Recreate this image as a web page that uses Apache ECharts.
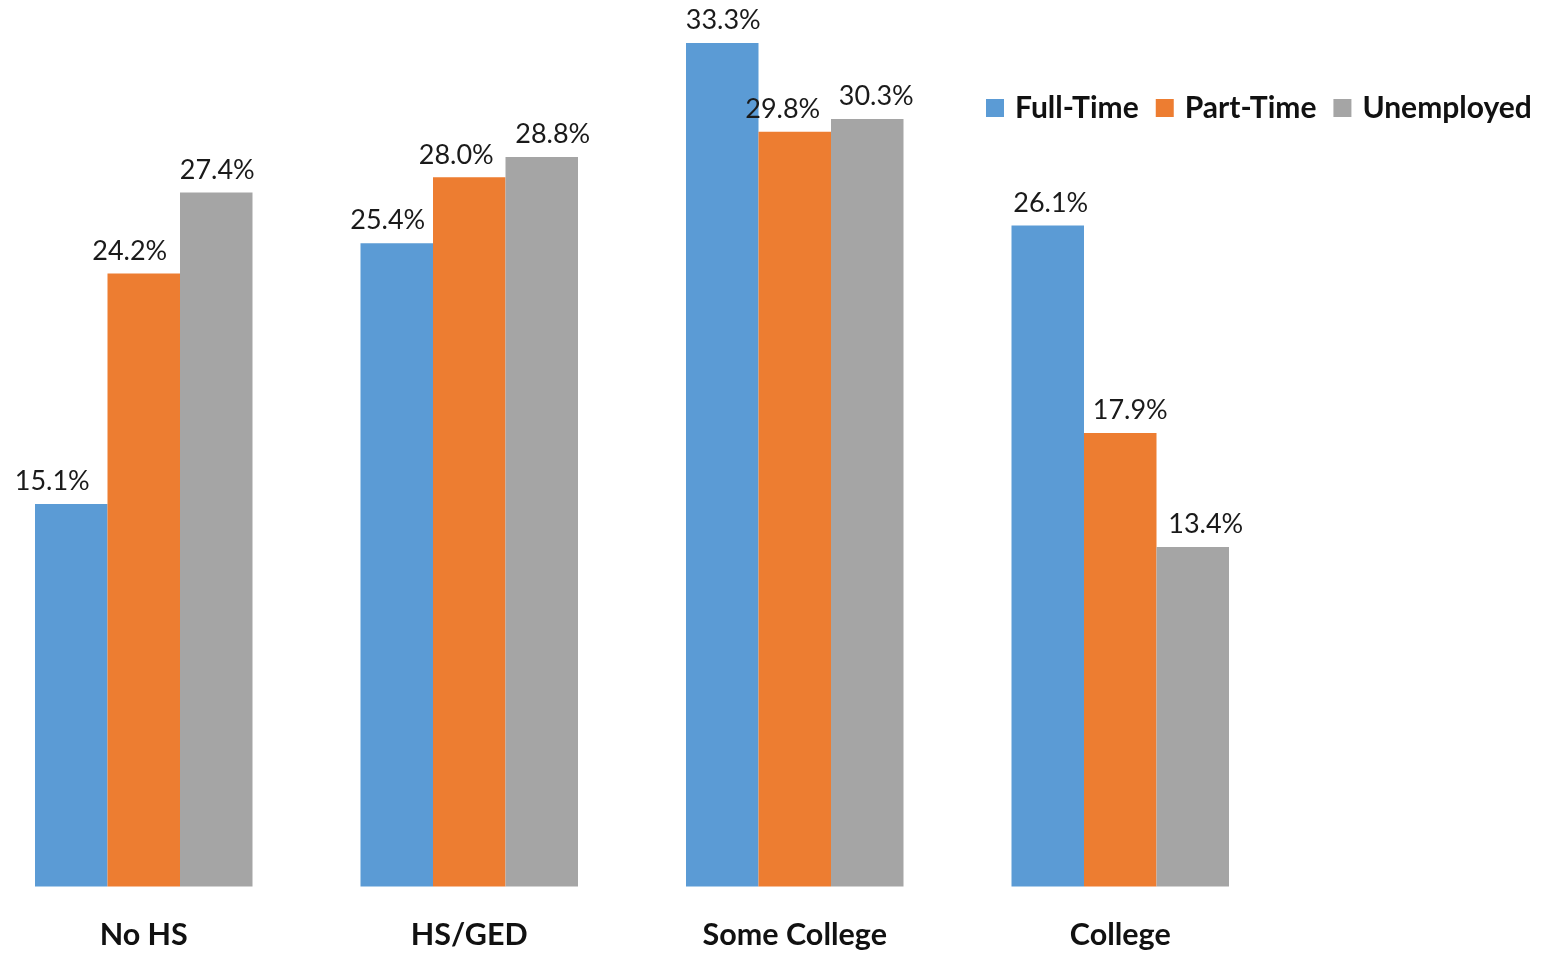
<!DOCTYPE html>
<html>
<head>
<meta charset="utf-8">
<script src="https://cdn.jsdelivr.net/npm/echarts@6/dist/echarts.min.js"></script>
<style>html,body{margin:0;padding:0;background:#fff;overflow:hidden}#c{position:absolute;left:-19px;top:0;width:1567px;height:953px}</style>
</head>
<body>
<div id="c"></div>
<script>
const categories = ['No HS', 'HS/GED', 'Some College', 'College'];
const seriesNames = ['Full-Time', 'Part-Time', 'Unemployed'];
const fullTime = [15.1, 25.4, 33.3, 26.1];
const partTime = [24.2, 28.0, 29.8, 17.9];
const unemployed = [27.4, 28.8, 30.3, 13.4];

const colors = ['#5B9BD5', '#ED7D31', '#A5A5A5'];
// horizontal nudges of value labels (style only)
const labelShift = [
  [-19, -9, 1, 3],
  [-14, -13, -12, 10],
  [1, 11, 9, 13]
];
const allValues = [fullTime, partTime, unemployed];

const chart = echarts.init(document.getElementById('c'), null, {renderer: 'canvas'});
const series = allValues.map((vals, si) => ({
  name: seriesNames[si],
  type: 'bar',
  barWidth: 72.5,
  barGap: '0%',
  itemStyle: {color: colors[si]},
  data: vals.map((v, i) => ({
    value: v,
    label: {offset: [labelShift[si][i], 0]}
  })),
  label: {
    show: true,
    position: 'top',
    distance: 9,
    color: '#1a1a1a',
    fontFamily: 'Lato',
    fontSize: 27,
    formatter: p => p.value.toFixed(1) + '%'
  }
}));

chart.setOption({
  animation: false,
  backgroundColor: '#fff',
  grid: {left: 0, right: 265, top: 0, bottom: 66.5, containLabel: false},
  legend: {
    left: 1005, top: 93, padding: 0,
    itemWidth: 18, itemHeight: 18, itemGap: 17,
    icon: 'rect',
    textStyle: {fontFamily: 'Lato', fontWeight: 'bold', fontSize: 30, color: '#111', padding: [0, 0, 0, 6]},
    data: seriesNames
  },
  xAxis: {
    type: 'category',
    data: categories,
    axisLine: {show: false},
    axisTick: {show: false},
    axisLabel: {fontFamily: 'Lato', fontWeight: 'bold', fontSize: 30.5, color: '#111', margin: 33}
  },
  yAxis: {
    type: 'value', min: 0, max: 35, show: false,
    splitLine: {show: false}
  },
  series: series
});
</script>
</body>
</html>
